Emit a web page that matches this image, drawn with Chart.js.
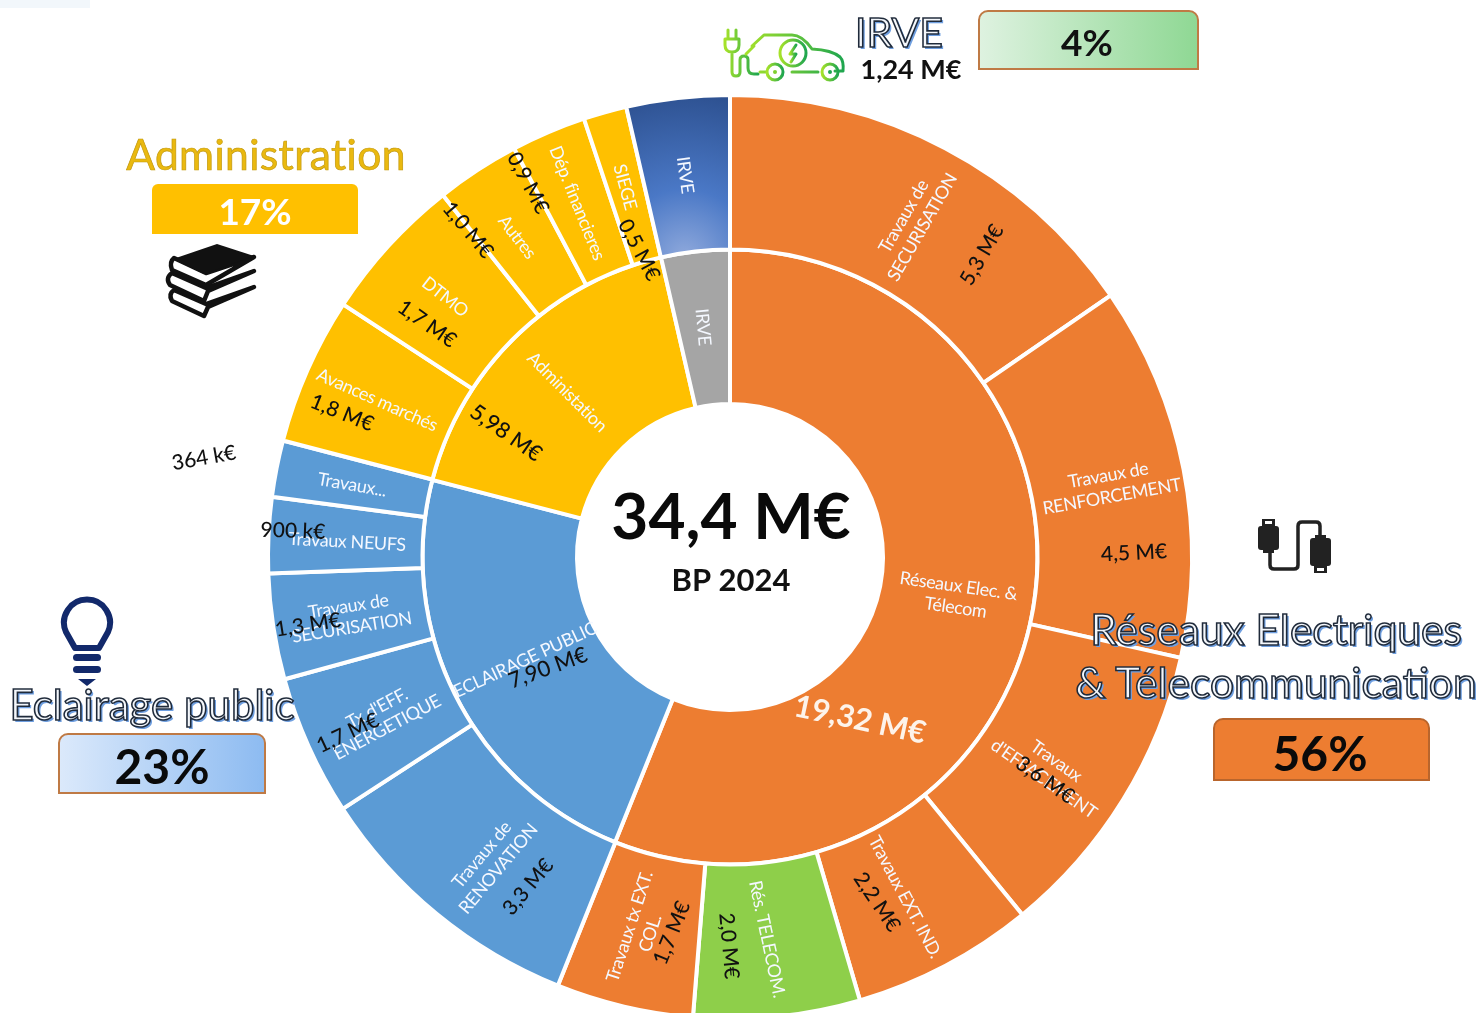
<!DOCTYPE html>
<html lang="fr">
<head>
<meta charset="utf-8">
<title>BP 2024</title>
<script src="https://cdn.jsdelivr.net/npm/chart.js@4"></script>
<style>
  html, body { margin: 0; padding: 0; background: #fff; }
  body { width: 1483px; height: 1013px; overflow: hidden; position: relative; font-family: Lato, sans-serif; }
  canvas { position: absolute; left: 0; top: 0; }
  .t { position: absolute; white-space: nowrap; transform: translate(-50%, -50%); line-height: 1; }
  .outlined { color: #f4f7fb; -webkit-text-stroke: 1.6px #1f2a3a; text-shadow: 2px 2px 0 #6f9fe0; font-size: 42.5px; }
  .box { position: absolute; box-sizing: border-box; border: 2px solid #bf7a45; border-radius: 10px 10px 0 0; }
  svg { position: absolute; }
</style>
</head>
<body>
<canvas id="chart" width="1483" height="1040"></canvas>

<div style="position:absolute;left:0;top:0;width:90px;height:8px;background:#f2f7fb"></div>
<div class="box" style="left:978px;top:10px;width:221px;height:60px;background:linear-gradient(90deg,#def2e0,#8fd894)"></div>
<div class="box" style="left:152px;top:184px;width:206px;height:50px;background:#ffc000;border:none;border-radius:6px 6px 0 0"></div>
<div class="box" style="left:58px;top:733px;width:208px;height:61px;background:linear-gradient(90deg,#dbe9fb,#8dbbf1)"></div>
<div class="box" style="left:1213px;top:718px;width:217px;height:63px;background:#ed7d31;border-color:#b9652c"></div>

<div class="t outlined" style="left:899px;top:31px;font-size:41px">IRVE</div>
<div class="t" style="left:911px;top:68px;font-size:27px;font-weight:700;color:#111">1,24 M€</div>
<div class="t" style="left:1087px;top:41px;font-size:37px;font-weight:700;color:#111">4%</div>

<div class="t" style="left:266px;top:154px;font-size:42.5px;color:#eab90f;-webkit-text-stroke:.7px #c49a10;letter-spacing:.4px">Administration</div>
<div class="t" style="left:255px;top:210px;font-size:37px;font-weight:700;color:#fff">17%</div>

<div class="t outlined" style="left:152px;top:704px;font-size:42px">Eclairage public</div>
<div class="t" style="left:162px;top:766px;font-size:48px;font-weight:700;color:#0a0a0a">23%</div>

<div class="t outlined" style="left:1276px;top:629px">Réseaux Electriques</div>
<div class="t outlined" style="left:1276px;top:682px">&amp; Télecommunication</div>
<div class="t" style="left:1320px;top:753px;font-size:48px;font-weight:700;color:#0a0a0a">56%</div>

<!-- voiture IRVE -->
<svg style="left:722px;top:26px" width="126" height="58" viewBox="0 0 126 58" fill="none">
  <defs><linearGradient id="carG" x1="0" x2="1"><stop offset="0" stop-color="#a6e22a"/><stop offset="1" stop-color="#1fa64f"/></linearGradient></defs>
  <g stroke="url(#carG)" stroke-width="3" stroke-linecap="round" stroke-linejoin="round">
    <path d="M6 4v9M14 4v9M3 13h14v6q0 7-7 7t-7-7zM10 26v20q0 4 4 4t4-4V34q0-4 4-4t4 4v8q0 6 6 6h4"/>
    <path d="M30 20l12-11h28q10 0 20 14q20 1 28 8q4 4 3 14h-8M96 46H70M32 20l-8 8M44 46h-6"/>
    <circle cx="53" cy="46" r="8"/><circle cx="108" cy="46" r="8"/>
    <circle cx="71" cy="27" r="13"/><path d="M74 19l-6 9h6l-5 8"/>
  </g>
  <circle cx="53" cy="46" r="2" fill="#7fcf2f"/><circle cx="108" cy="46" r="2" fill="#1fa64f"/>
</svg>

<!-- livres -->
<svg style="left:164px;top:241px" width="94" height="80" viewBox="0 0 94 80">
  <g stroke="#111" stroke-width="4.5" fill="#fff" stroke-linejoin="round">
    <path d="M40 75L8 60q-4-7 2-11l32 14 48-17-46 20z"/>
    <path d="M40 60L6 44q-5-7 2-12l34 15 48-17-46 20z"/>
    <path d="M42 44L8 29q-3-8 2-12l32 15 48-16z"/>
  </g>
  <path d="M53 3L90 15 40 33 9 18z" fill="#111"/>
</svg>

<!-- ampoule -->
<svg style="left:58px;top:594px" width="58" height="96" viewBox="0 0 58 96">
  <g fill="none" stroke="#12296b" stroke-width="6">
    <path d="M17 54L8 38a23 23 0 1 1 42 0l-9 16z" stroke-linejoin="round"/>
  </g>
  <g fill="#12296b">
    <rect x="15" y="60" width="28" height="7" rx="3.5"/>
    <rect x="15" y="72" width="28" height="7" rx="3.5"/>
    <path d="M20 85h18l-9 7z"/>
  </g>
</svg>

<!-- cable -->
<svg style="left:1256px;top:516px" width="78" height="60" viewBox="0 0 78 60">
  <path d="M14 30v19q0 4 4 4h20q4 0 4-4V10q0-4 4-4h14q4 0 4 4v10" fill="none" stroke="#222" stroke-width="3.5"/>
  <g fill="#222">
    <rect x="2" y="10" width="21" height="24" rx="3"/><path d="M6 3h13v7H6zM7 34h11v3H7z"/>
    <rect x="54" y="22" width="21" height="28" rx="3"/><path d="M58 50h13v7H58zM59 19h11v3H59z"/>
  </g>
  <rect x="9" y="5" width="7" height="3" fill="#fff"/><rect x="61" y="52" width="7" height="3" fill="#fff"/>
</svg>

<script>
const outerNames = ["Travaux de\nSECURISATION", "Travaux de\nRENFORCEMENT", "Travaux\nd'EFFACEMENT", "Travaux EXT. IND.", "Rés. TELECOM.", "Travaux tx EXT.\nCOL.", "Travaux de\nRENOVATION", "Tx d'EFF.\nENERGETIQUE", "Travaux de\nSECURISATION", "Travaux NEUFS", "Travaux...", "Avances marchés", "DTMO", "Autres", "Dép. financieres", "SIEGE", "IRVE"];
// slice sizes
const outerValues = [5.3, 4.5, 3.64, 2.19, 2.0, 1.65, 3.35, 1.69, 1.27, 0.91, 0.68, 1.77, 1.76, 1.01, 0.9, 0.52, 1.24];
const outerValueText = ["5,3 M€", "4,5 M€", "3,6 M€", "2,2 M€", "2,0 M€", "1,7 M€", "3,3 M€", "1,7 M€", "1,3 M€", "900 k€", "364 k€", "1,8 M€", "1,7 M€", "1,0 M€", "0,9 M€", "0,5 M€", ""];

const innerNames = ["Réseaux Elec. &\nTélecom", "ECLAIRAGE PUBLIC", "Administation", "IRVE"];
const innerValues = [19.32, 7.90, 5.98, 1.24];
const innerValueText = ["19,32 M€", "7,90 M€", "5,98 M€", ""];

const ORANGE = "#ed7d31", BLUE = "#5b9bd5", YELLOW = "#ffc000", GREY = "#a5a5a5", GREEN = "#8ecf4a";
const outerColors = [ORANGE, ORANGE, ORANGE, ORANGE, GREEN, ORANGE, BLUE, BLUE, BLUE, BLUE, BLUE, YELLOW, YELLOW, YELLOW, YELLOW, YELLOW];
const innerColors = [ORANGE, BLUE, YELLOW, GREY];

// label placement: dx, dy from the chart centre, rotation in degrees
const outerNamePos = [[183,-335,-60],[380,-71,-10],[320,213,35],[175,340,62],[37,382,78],[-90,373,-72],[-240,305,-50],[-348,161,-28],[-380,60,-9],[-383,-15,3],[-378,-72,10],[-353,-157,24],[-285,-260,38],[-213,-320,52],[-153,-354,68],[-105,-370,75],[-45,-382,82]];
const outerValuePos = [[252,-302,-60],[404,-4,-3],[315,223,35],[147,345,56],[-1,389,85],[-58,376,-68],[-202,330,-50],[-382,176,-25],[-422,68,-9],[-437,-26,2],[-526,-99,-10],[-388,-144,22],[-303,-233,35],[-262,-327,50],[-202,-374,62],[-91,-307,62]];
const innerNamePos = [[227,40,8],[-205,103,-25],[-163,-165,45],[-27,-230,85]];
const innerValuePos = [[130,163,12],[-182,111,-20],[-224,-124,35]];

function irveGradient(chart) {
  const area = chart.chartArea;
  if (!area) return "#4472c4";
  const cx = (area.left + area.right) / 2, cy = (area.top + area.bottom) / 2;
  const g = chart.ctx.createRadialGradient(cx - 45, cy - 300, 0, cx - 45, cy - 300, 170);
  g.addColorStop(0, "#8fa9dc");
  g.addColorStop(0.4, "#4a78c6");
  g.addColorStop(1, "#2c4f8e");
  return g;
}

function drawText(ctx, cx, cy, text, pos, font, color, spacing) {
  if (!text || !pos) return;
  ctx.save();
  ctx.translate(cx + pos[0], cy + pos[1]);
  ctx.rotate(pos[2] * Math.PI / 180);
  ctx.font = font;
  ctx.fillStyle = color;
  ctx.textAlign = "center";
  ctx.textBaseline = "middle";
  ctx.letterSpacing = spacing || "0px";
  const lines = text.split("\n");
  const lh = parseInt(font.match(/(\d+)px/)[1]) * 1.2;
  lines.forEach((l, i) => ctx.fillText(l, 0, (i - (lines.length - 1) / 2) * lh));
  ctx.restore();
}

const ringText = {
  id: "ringText",
  afterDraw(chart) {
    const ctx = chart.ctx;
    const arc = chart.getDatasetMeta(0).data[0];
    const cx = arc.x, cy = arc.y;
    outerNames.forEach((n, i) => drawText(ctx, cx, cy, n, outerNamePos[i], "18px Lato", "#f4f8ff", "-0.4px"));
    innerNames.forEach((n, i) => drawText(ctx, cx, cy, n, innerNamePos[i], "18px Lato", "#f4f8ff", "-0.4px"));
    outerValueText.forEach((v, i) => drawText(ctx, cx, cy, v, outerValuePos[i], "500 21px Lato", "#111"));
    innerValueText.forEach((v, i) => {
      if (i === 0) drawText(ctx, cx, cy, v, innerValuePos[i], "bold 31px Lato", "#fdf3ea");
      else drawText(ctx, cx, cy, v, innerValuePos[i], "500 22px Lato", "#111");
    });
    drawText(ctx, cx, cy, "34,4 M€", [1, -39, 0], "bold 64px Lato", "#0a0a0a");
    drawText(ctx, cx, cy, "BP 2024", [1, 24, 0], "bold 31px Lato", "#111");
  }
};

new Chart(document.getElementById("chart"), {
  type: "doughnut",
  plugins: [ringText],
  data: {
    labels: outerNames,
    datasets: [
      {
        data: outerValues,
        backgroundColor: (c) => (c.dataIndex === outerValues.length - 1 ? irveGradient(c.chart) : outerColors[c.dataIndex]),
      },
      {
        data: innerValues,
        backgroundColor: innerColors,
      },
    ],
  },
  options: {
    responsive: false,
    animation: false,
    cutout: 153,
    hoverOffset: 0,
    borderColor: "#ffffff",
    borderWidth: 4,
    layout: { padding: { left: 266, right: 289, top: 93, bottom: 19 } },
    plugins: { legend: { display: false }, tooltip: { enabled: false } },
  },
});
</script>
</body>
</html>
